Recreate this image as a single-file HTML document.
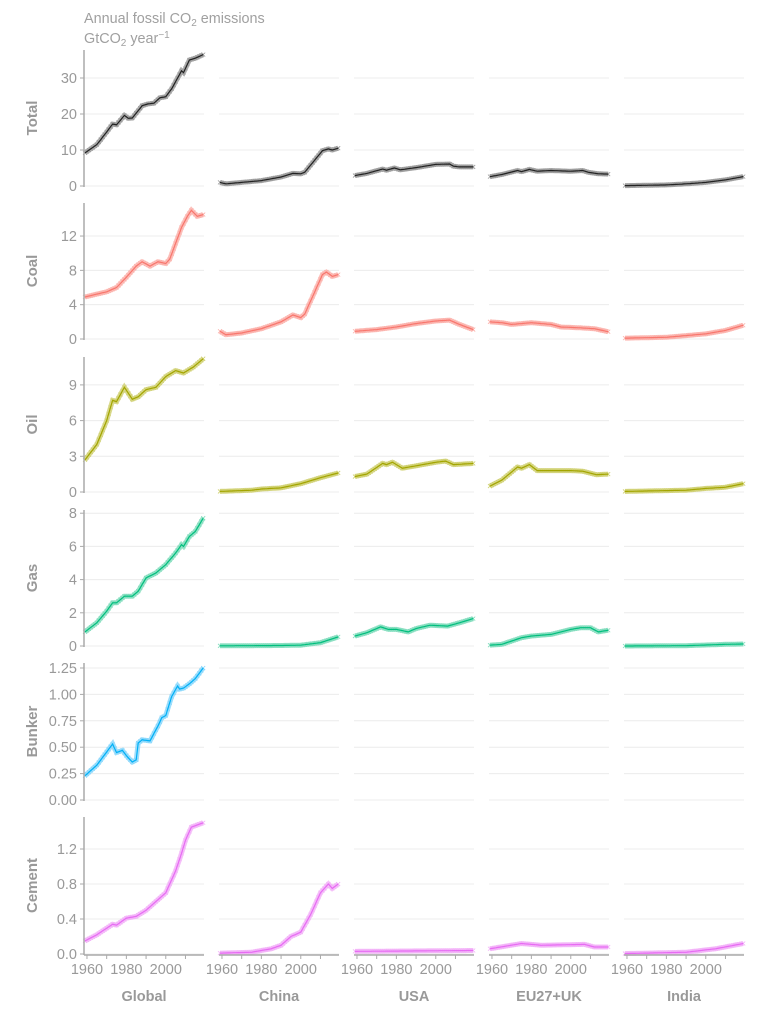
<!DOCTYPE html>
<html><head><meta charset="utf-8"><style>
body{margin:0;background:#fff;}
svg text{font-family:"Liberation Sans",sans-serif;}
</style></head><body>
<svg id="s" width="767" height="1023" xmlns="http://www.w3.org/2000/svg">
<text x="84" y="23" font-size="14.4" fill="#a0a0a0">Annual fossil CO<tspan font-size="10" dy="3">2</tspan><tspan dy="-3"> emissions</tspan></text>
<text x="84" y="43" font-size="14.4" fill="#a0a0a0">GtCO<tspan font-size="10" dy="3">2</tspan><tspan dy="-3"> year</tspan><tspan font-size="10" dy="-5">−1</tspan></text>
</svg>
<script>
const S=document.getElementById('s');const NS='http://www.w3.org/2000/svg';
function el(t,a,txt){const e=document.createElementNS(NS,t);for(const k in a)e.setAttribute(k,a[k]);if(txt!=null)e.textContent=txt;S.appendChild(e);return e;}
const colX=[84,219,354,489,624], W=120;
const rows=[
 {n:'Total',z:186,top:50,ppu:3.6,ticks:[0,10,20,30],lab:v=>v,c:'#222',cl:'#999'},
 {n:'Coal',z:339,top:203,ppu:8.58,ticks:[0,4,8,12],lab:v=>v,c:'#F8766D',cl:'#fbb0aa'},
 {n:'Oil',z:492,top:357,ppu:11.9,ticks:[0,3,6,9],lab:v=>v,c:'#A3A500',cl:'#cfd070'},
 {n:'Gas',z:646,top:510,ppu:16.6,ticks:[0,2,4,6,8],lab:v=>v,c:'#00BF7D',cl:'#7fdcbc'},
 {n:'Bunker',z:800,top:663,ppu:105.6,ticks:[0,0.25,0.5,0.75,1,1.25],lab:v=>v.toFixed(2),c:'#00B0F6',cl:'#86d6fb'},
 {n:'Cement',z:954,top:817,ppu:87.5,ticks:[0,0.4,0.8,1.2],lab:v=>v.toFixed(1),c:'#E76BF3',cl:'#f2b0f8'}];
const D=[
[[[1959,9.2],[1965,11.5],[1970,15],[1973,17.2],[1975,17],[1979,19.6],[1981,18.8],[1983,18.9],[1988,22.3],[1991,22.8],[1994,23],[1997,24.5],[2000,24.8],[2003,27],[2008,32],[2009,31.5],[2012,35],[2015,35.5],[2019,36.5]],
 [[1959,1.0],[1962,0.6],[1970,1.0],[1980,1.5],[1990,2.5],[1996,3.5],[2000,3.4],[2002,3.8],[2011,9.8],[2014,10.3],[2016,10.0],[2019,10.5]],
 [[1959,2.9],[1965,3.5],[1973,4.7],[1975,4.4],[1979,5.0],[1982,4.5],[1990,5.1],[2000,6.0],[2007,6.1],[2009,5.5],[2012,5.3],[2019,5.3]],
 [[1959,2.6],[1965,3.2],[1973,4.3],[1975,4.0],[1979,4.6],[1983,4.1],[1990,4.3],[2000,4.1],[2006,4.3],[2009,3.8],[2014,3.4],[2019,3.3]],
 [[1959,0.1],[1980,0.3],[1990,0.6],[2000,1.0],[2010,1.7],[2019,2.6]]],
[[[1959,4.9],[1970,5.5],[1975,6.0],[1980,7.2],[1985,8.5],[1988,9.0],[1992,8.5],[1996,9.0],[2000,8.8],[2002,9.3],[2008,13.0],[2011,14.3],[2013,15.0],[2016,14.3],[2019,14.5]],
 [[1959,0.9],[1962,0.5],[1970,0.7],[1980,1.2],[1990,2.0],[1996,2.8],[2000,2.5],[2002,2.9],[2011,7.5],[2013,7.8],[2016,7.3],[2019,7.5]],
 [[1959,0.9],[1970,1.1],[1980,1.4],[1990,1.8],[2000,2.1],[2007,2.2],[2012,1.7],[2019,1.1]],
 [[1959,2.0],[1965,1.9],[1970,1.7],[1980,1.9],[1985,1.8],[1990,1.7],[1995,1.4],[2005,1.3],[2012,1.2],[2019,0.85]],
 [[1959,0.1],[1980,0.2],[1990,0.4],[2000,0.6],[2010,1.0],[2019,1.6]]],
[[[1959,2.7],[1965,4.0],[1970,6.0],[1973,7.7],[1975,7.6],[1979,8.8],[1983,7.8],[1986,8.0],[1990,8.6],[1995,8.8],[2000,9.7],[2005,10.2],[2009,10.0],[2014,10.5],[2019,11.2]],
 [[1959,0.05],[1975,0.15],[1980,0.25],[1990,0.35],[2000,0.7],[2010,1.2],[2019,1.6]],
 [[1959,1.3],[1965,1.5],[1973,2.4],[1975,2.3],[1978,2.5],[1983,2.0],[1990,2.2],[2000,2.5],[2005,2.6],[2009,2.3],[2019,2.4]],
 [[1959,0.5],[1965,1.0],[1973,2.1],[1975,2.0],[1979,2.3],[1983,1.8],[1990,1.8],[2000,1.8],[2006,1.75],[2013,1.45],[2019,1.5]],
 [[1959,0.05],[1990,0.15],[2000,0.3],[2010,0.4],[2019,0.7]]],
[[[1959,0.85],[1965,1.4],[1970,2.1],[1973,2.6],[1975,2.6],[1979,3.0],[1983,3.0],[1986,3.3],[1990,4.1],[1995,4.4],[2000,4.9],[2005,5.6],[2008,6.1],[2009,6.0],[2012,6.6],[2015,6.9],[2019,7.7]],
 [[1959,0.01],[1990,0.03],[2000,0.05],[2010,0.2],[2019,0.55]],
 [[1959,0.6],[1965,0.8],[1972,1.15],[1976,1.0],[1980,1.0],[1986,0.85],[1990,1.05],[1997,1.25],[2006,1.2],[2012,1.4],[2019,1.65]],
 [[1959,0.05],[1965,0.1],[1970,0.3],[1975,0.5],[1980,0.6],[1990,0.7],[2000,1.0],[2005,1.1],[2010,1.1],[2014,0.85],[2019,0.95]],
 [[1959,0.0],[1990,0.02],[2010,0.1],[2019,0.12]]],
[[[1959,0.23],[1965,0.33],[1973,0.53],[1975,0.45],[1978,0.47],[1980,0.42],[1983,0.36],[1985,0.38],[1986,0.54],[1988,0.57],[1992,0.56],[1996,0.70],[1998,0.78],[2000,0.80],[2003,0.98],[2006,1.08],[2007,1.05],[2009,1.06],[2012,1.10],[2015,1.15],[2019,1.25]],null,null,null,null],
[[[1959,0.15],[1965,0.22],[1973,0.34],[1975,0.33],[1980,0.41],[1985,0.43],[1990,0.50],[1995,0.60],[2000,0.70],[2005,0.95],[2008,1.15],[2010,1.30],[2013,1.45],[2019,1.50]],
 [[1959,0.01],[1975,0.02],[1985,0.06],[1990,0.1],[1995,0.2],[2000,0.25],[2005,0.45],[2010,0.7],[2014,0.8],[2016,0.75],[2019,0.8]],
 [[1959,0.03],[2019,0.04]],
 [[1959,0.06],[1975,0.12],[1985,0.1],[2007,0.11],[2012,0.08],[2019,0.08]],
 [[1959,0.005],[1990,0.02],[2005,0.06],[2019,0.12]]]];
function interp(a,y){for(let i=1;i<a.length;i++){if(y<=a[i][0]){const t=(y-a[i-1][0])/(a[i][0]-a[i-1][0]);return a[i-1][1]+t*(a[i][1]-a[i-1][1]);}}return a[a.length-1][1];}
const xs=(c,y)=>colX[c]+1+(y-1959)*1.97;
rows.forEach((r,ri)=>{
 el('text',{x:33,y:(r.top+r.z)/2,'font-size':15,'font-weight':'bold',fill:'#999','text-anchor':'middle',transform:`rotate(-90 33 ${(r.top+r.z)/2})`,'dominant-baseline':'middle'},r.n);
 for(let c=0;c<5;c++){
  r.ticks.forEach(v=>{const y=r.z-v*r.ppu;el('line',{x1:colX[c],x2:colX[c]+W,y1:y,y2:y,stroke:'#ececec','stroke-width':1});});
  const d=D[ri][c];
  if(d){let pts=[];for(let yy=1959;yy<=2019;yy++)pts.push([xs(c,yy),r.z-interp(d,yy)*r.ppu]);
   const p=pts.map(q=>q[0].toFixed(1)+','+q[1].toFixed(1)).join(' ');
   el('polyline',{points:p,fill:'none',stroke:r.cl,'stroke-width':5,'stroke-opacity':0.8});
   let cr='';pts.forEach(q=>{cr+=`M${q[0]-2},${q[1]-2}l4,4M${q[0]+2},${q[1]-2}l-4,4`;});
   el('path',{d:cr,stroke:r.cl,'stroke-width':0.8,fill:'none'});
   el('polyline',{points:p,fill:'none',stroke:r.c,'stroke-width':1.2});}
 }
 el('line',{x1:84,x2:84,y1:r.top,y2:r.z+1,stroke:'#aaa','stroke-width':1.5});
 r.ticks.forEach(v=>{const y=r.z-v*r.ppu;el('line',{x1:80,x2:84,y1:y,y2:y,stroke:'#aaa'});
  el('text',{x:77,y:y+5,'font-size':14.5,fill:'#999','text-anchor':'end'},r.lab(v));});
});
const names=['Global','China','USA','EU27+UK','India'];
for(let c=0;c<5;c++){
 el('line',{x1:colX[c],x2:colX[c]+W,y1:955,y2:955,stroke:'#aaa','stroke-width':1.5});
 for(let y=1960;y<=2010;y+=10){const x=xs(c,y);el('line',{x1:x,x2:x,y1:955,y2:959,stroke:'#aaa'});
  if(y%20==0)el('text',{x:x,y:974,'font-size':14.5,fill:'#999','text-anchor':'middle'},y);}
 el('text',{x:colX[c]+60,y:1001,'font-size':14.5,'font-weight':'bold',fill:'#999','text-anchor':'middle'},names[c]);
}
</script>
</body></html>
